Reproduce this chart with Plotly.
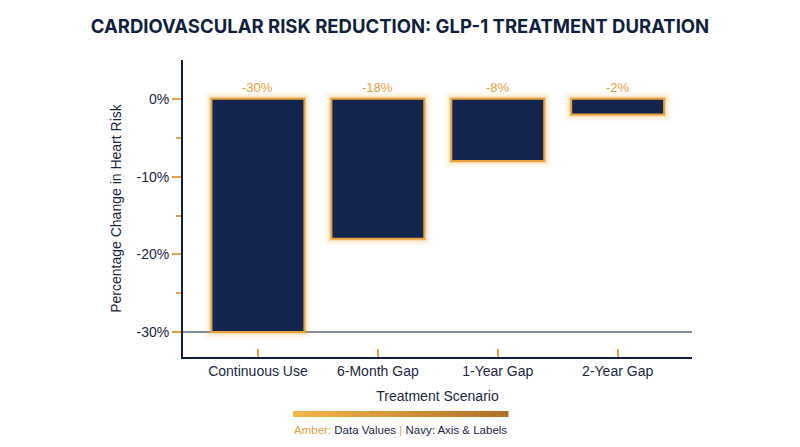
import plotly.graph_objects as go

# Data
scenarios = ["Continuous Use", "6-Month Gap", "1-Year Gap", "2-Year Gap"]
risk_change = [-30, -18, -8, -2]
value_labels = ["-30%", "-18%", "-8%", "-2%"]
y_ticks = [0, -10, -20, -30]
y_tick_labels = ["0%", "-10%", "-20%", "-30%"]
y_minor_ticks = [-5, -15, -25]

NAVY = "#13254f"
INK = "#1b2742"
AMBER = "#e6a03c"

fig = go.Figure()

# soft amber glow behind the bars
for w, a in [(14, 0.05), (10, 0.08), (6, 0.14), (4, 0.22)]:
    fig.add_trace(go.Bar(
        x=scenarios, y=risk_change, width=0.775,
        marker=dict(color="rgba(0,0,0,0)", line=dict(color=f"rgba(245,170,60,{a})", width=w)),
        hoverinfo="skip", showlegend=False
    ))

fig.add_trace(go.Bar(
    x=scenarios, y=risk_change, width=0.775,
    marker=dict(color=NAVY, line=dict(color=AMBER, width=2)),
    showlegend=False
))

# value labels above the zero line
for s, lab in zip(scenarios, value_labels):
    fig.add_annotation(x=s, y=0, text=lab, showarrow=False, yshift=11,
                       yanchor="middle", font=dict(color=AMBER, size=13))

fig.update_layout(
    width=800, height=447,
    barmode="overlay",
    paper_bgcolor="white", plot_bgcolor="white",
    margin=dict(l=183, r=108, t=60, b=90),
    font=dict(family="Liberation Sans", color=INK, size=13),
    title=dict(
        text="<b>CARDIOVASCULAR RISK REDUCTION: GLP-1 TREATMENT DURATION</b>",
        x=0.5, xanchor="center", y=1 - 27 / 447, yanchor="middle",
        font=dict(family="Inter", size=18.5, color="#0f1f3d")
    ),
)

fig.update_xaxes(
    range=[-0.625, 3.62],
    showline=True, linecolor="#0f1f3d", linewidth=2,
    ticks="inside", ticklen=8, tickwidth=2, tickcolor=AMBER,
    showgrid=False, zeroline=False,
    tickfont=dict(size=14, color=INK),
    title=dict(text="Treatment Scenario", font=dict(size=14, color=INK), standoff=13)
)

fig.update_yaxes(
    range=[-33.2, 5],
    tickvals=y_ticks, ticktext=y_tick_labels,
    showline=True, linecolor="#0f1f3d", linewidth=2,
    ticks="outside", ticklen=9, tickwidth=2, tickcolor=AMBER,
    minor=dict(tickvals=y_minor_ticks, ticks="outside", ticklen=5, tickwidth=2,
               tickcolor=AMBER, showgrid=False),
    showgrid=False, zeroline=False,
    tickfont=dict(size=14, color=INK),
    title=dict(text="Percentage Change in Heart Risk", font=dict(size=14, color=INK), standoff=12)
)

# baseline at -30%
fig.add_shape(type="line", xref="paper", x0=0, x1=1, yref="y", y0=-30, y1=-30,
              line=dict(color="#5d6876", width=1.5), layer="below")

# gradient key bar (paper coords relative to plot area 183..692 x 60..357)
def px_x(p):
    return (p - 183) / 509


def px_y(p):
    return (357 - p) / 297


n = 60
bx0, bx1 = px_x(293), px_x(508)
c0, c1 = (246, 180, 72), (178, 110, 40)
for i in range(n):
    t = i / (n - 1)
    col = "rgb(%d,%d,%d)" % tuple(int(c0[k] + (c1[k] - c0[k]) * t) for k in range(3))
    fig.add_shape(type="rect", xref="paper", yref="paper",
                  x0=bx0 + (bx1 - bx0) * i / n, x1=bx0 + (bx1 - bx0) * (i + 1) / n + 0.001,
                  y0=px_y(417), y1=px_y(411),
                  line=dict(width=0), fillcolor=col)

fig.add_annotation(
    xref="paper", yref="paper", x=px_x(400), y=px_y(430),
    text=f"<span style='color:{AMBER}'>Amber:</span> Data Values "
         f"<span style='color:{AMBER}'>|</span> Navy: Axis &amp; Labels",
    showarrow=False, font=dict(size=11.5, color=INK), xanchor="center", yanchor="middle"
)

fig.write_html("out.html", config={"displayModeBar": False},
               post_script="document.body.style.margin='0';")
